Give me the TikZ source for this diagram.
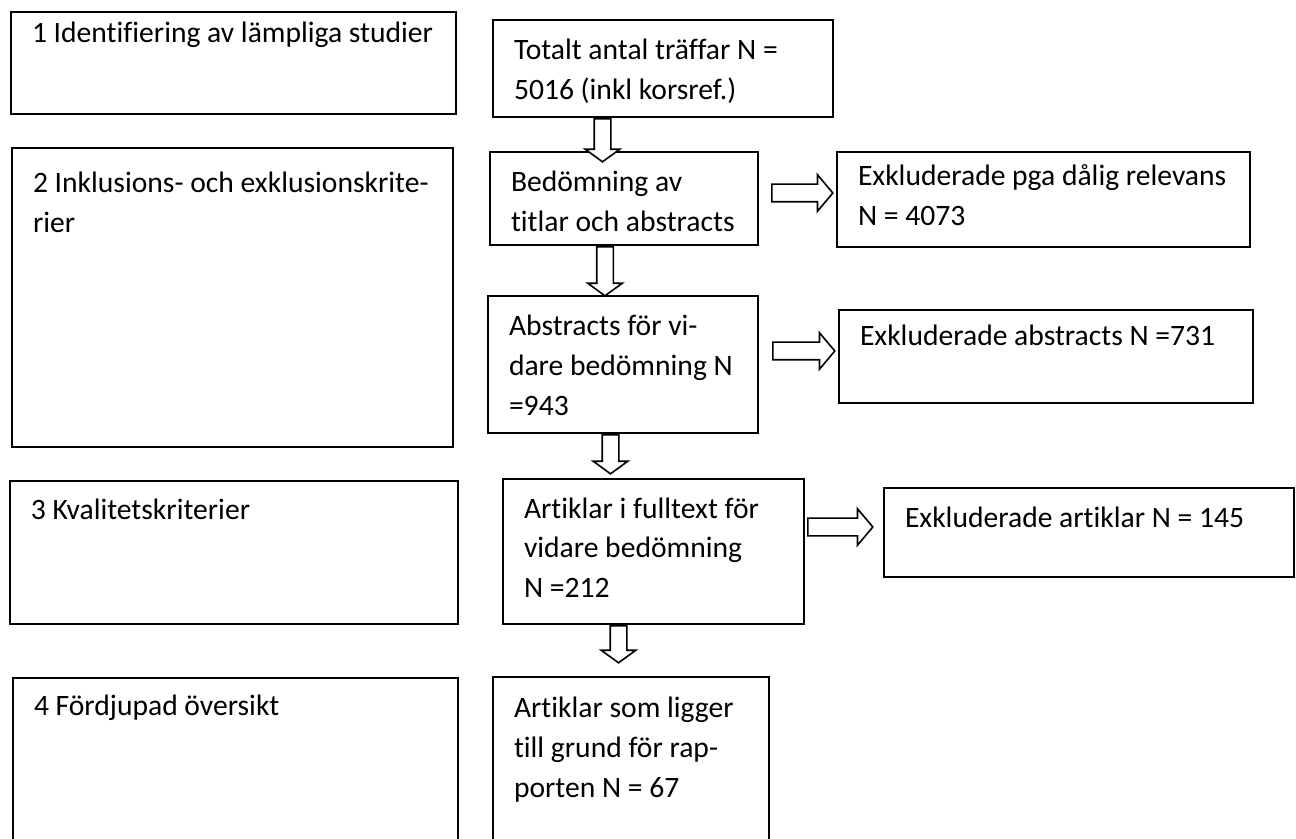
\documentclass[tikz,border=0pt]{standalone}
\usepackage{fontspec}
\setmainfont{Carlito}[Ligatures=NoCommon]
\usetikzlibrary{shapes.arrows}

\newdimen\pxunit \pxunit=0.5pt
% text of a box: [top of first line]{width}{height}{lines}
\newcommand{\stagetext}[4][20]{%
  \parbox[c][#3\pxunit][t]{#2\pxunit}{\fontsize{14.8}{20}\selectfont
    \vskip\dimexpr #1\pxunit-10.5pt\relax\hbox{}%
    \parindent=0pt\leftskip=21\pxunit\rightskip=0pt plus 1fil #4\par}}

\begin{document}
\begin{tikzpicture}[x=0.5pt, y=-0.5pt,
    stage/.style={draw, line width=1pt, anchor=north west, inner sep=0pt},
    downblock/.style={single arrow, draw, fill=white, line width=0.8pt, inner sep=3.75pt,
      shape border rotate=270, anchor=tail, minimum width=16.5pt,
      single arrow head extend=4.5pt, single arrow tip angle=108},
    rightblock/.style={single arrow, draw, fill=white, line width=0.8pt, inner sep=4pt,
      anchor=tail, minimum width=17.5pt,
      single arrow head extend=4.75pt, single arrow tip angle=100}]
   \clip (0,0) rectangle (1296,839);

   % steps on the left
   \node[stage] (ident) at (10,11) {\stagetext[12]{445}{102}{1 Identifiering av lämpliga studier}};
   \node[stage] (crit) at (11,147) {\stagetext[26]{441}{299}{2 Inklusions- och exklusionskrite-\\rier}};
   \node[stage] (qual) at (9,480) {\stagetext{448}{143}{3 Kvalitetskriterier}};
   \node[stage] (deep) at (12,677) {\stagetext[18]{445}{170}{4 Fördjupad översikt}};

   % flow in the middle
   \node[stage] (hits) at (492,19) {\stagetext[21]{340}{97}{Totalt antal träffar N =\\5016 (inkl korsref.)}};
   \node[stage] (screen) at (489,151) {\stagetext[21]{268}{93}{Bedömning av\\titlar och abstracts}};
   \node[stage] (abstr) at (487,295) {\stagetext[21]{270}{137}{Abstracts för vi-\\dare bedömning N\\=943}};
   \node[stage] (full) at (502,478) {\stagetext{301}{145}{Artiklar i fulltext för\\vidare bedömning\\N =212}};
   \node[stage] (incl) at (492,676) {\stagetext[21]{276}{170}{Artiklar som ligger\\till grund för rap-\\porten N = 67}};

   % excluded on the right
   \node[stage] (excl1) at (836,151) {\stagetext[15]{413}{95}{Exkluderade pga dålig relevans\\N = 4073}};
   \node[stage] (excl2) at (838,309) {\stagetext[17]{414}{93}{Exkluderade abstracts N =731}};
   \node[stage] (excl3) at (883,487) {\stagetext{410}{89}{Exkluderade artiklar N = 145}};

   % block arrows
   \node[downblock, minimum height=21.5pt] (down1) at (602.5,0 |- hits.south) {};
   \node[downblock, minimum height=24.5pt] (down2) at (605,0 |- screen.south) {};
   \node[downblock, minimum height=19.5pt] (down3) at (610.5,0 |- abstr.south) {};
   \node[downblock, minimum height=18.5pt] (down4) at (618.5,0 |- full.south) {};
   \node[rightblock, minimum height=30.5pt] (out1) at (771,193) {};
   \node[rightblock, minimum height=31pt] (out2) at (772,351) {};
   \node[rightblock, minimum height=32.5pt] (out3) at (807,527) {};
\end{tikzpicture}
\end{document}
